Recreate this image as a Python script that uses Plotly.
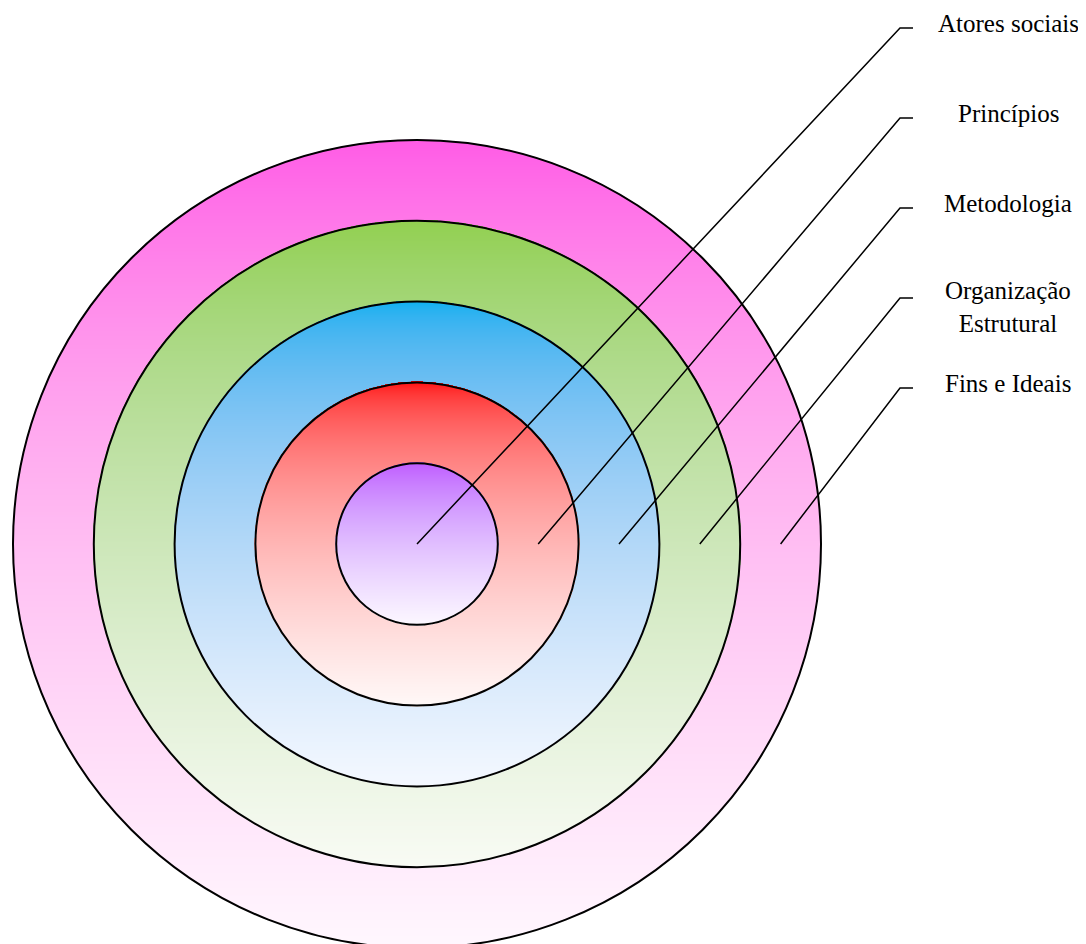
import base64
import struct
import zlib

import numpy as np
import plotly.graph_objects as go

# ---------------- data ----------------
labels = ["Atores sociais", "Princípios", "Metodologia",
          "Organização<br>Estrutural", "Fins e Ideais"]
ring_levels = [1, 2, 3, 4, 5]          # circle radii (inner -> outer), ring units
top_colors = ["#C05CFF", "#FF0000", "#00B0F0", "#92D050", "#FF5BE6"]
end_colors = ["#FCF7FF", "#FFF8F7", "#F4F8FF", "#F8FBF4", "#FFF7FE"]

# ---------------- layout geometry ----------------
OFF = 8                    # page body margin of the html page
W, H = 1086 - OFF, 944 - OFF
PX = 80.8                  # pixels per ring unit
CX, CY = 417 - OFF, 544 - OFF   # centre of the target in figure pixels
x_range = [-CX / PX, (W - CX) / PX]
y_range = [-(H - CY) / PX, CY / PX]


def hex_rgb(h):
    h = h.lstrip("#")
    return np.array([int(h[i:i + 2], 16) for i in (0, 2, 4)], dtype=float)


def to_lin(c):
    return (c / 255.0) ** 2.2


def to_srgb(c):
    return np.clip(c, 0, 1) ** (1 / 2.2) * 255.0


# ---------------- gradient raster (built from the ring data) ----------------
R = max(ring_levels)
N = int(round(2 * R * PX)) + 6
half = N / (2 * PX)
coords = (np.arange(N) + 0.5) / PX - half
X, Y = np.meshgrid(coords, -coords)
D = np.hypot(X, Y)
rgb = np.full((N, N, 3), 255.0)
for lvl, c0, c1 in sorted(zip(ring_levels, top_colors, end_colors), reverse=True):
    mask = D <= lvl + 1.0 / PX
    t = np.clip((lvl - Y) / (2 * lvl), 0, 1)[..., None]
    a, b = to_lin(hex_rgb(c0)), to_lin(hex_rgb(c1))
    col = to_srgb(a + (b - a) * t)
    rgb[mask] = col[mask]
alpha = np.clip((R - D) * PX + 1.0, 0, 1) * 255.0
img = np.dstack([rgb, alpha]).round().astype(np.uint8)


def png_bytes(arr):
    h, w = arr.shape[:2]
    raw = b"".join(b"\x00" + arr[i].tobytes() for i in range(h))

    def chunk(tag, data):
        return (struct.pack(">I", len(data)) + tag + data +
                struct.pack(">I", zlib.crc32(tag + data) & 0xFFFFFFFF))

    return (b"\x89PNG\r\n\x1a\n" +
            chunk(b"IHDR", struct.pack(">IIBBBBB", w, h, 8, 6, 0, 0, 0)) +
            chunk(b"IDAT", zlib.compress(raw, 9)) +
            chunk(b"IEND", b""))


uri = "data:image/png;base64," + base64.b64encode(png_bytes(img)).decode()

fig = go.Figure()

# ---------------- leader lines ----------------
x_bend = (900 - OFF - CX) / PX
x_tick = (913 - OFF - CX) / PX
x_label = (1008 - OFF - CX) / PX
for i, lab in enumerate(labels):
    x_start = 0 if i == 0 else (ring_levels[i - 1] + ring_levels[i]) / 2
    y_end = (CY - (28 - OFF) - 90 * i) / PX
    fig.add_trace(go.Scatter(
        x=[x_start, x_bend, x_tick], y=[0, y_end, y_end],
        mode="lines", line=dict(color="black", width=1.5),
        hoverinfo="skip", showlegend=False))
    nlines = lab.count("<br>") + 1
    fig.add_annotation(
        x=x_label, y=y_end, text=lab, showarrow=False,
        xanchor="center", yanchor="middle",
        yshift=5 - 14 * (nlines - 1),
        font=dict(family="Liberation Serif, Times New Roman, serif",
                  size=25, color="black"))

# ---------------- circles ----------------
for lvl in ring_levels:
    fig.add_shape(type="circle", xref="x", yref="y",
                  x0=-lvl, x1=lvl, y0=-lvl, y1=lvl,
                  line=dict(color="black", width=2), layer="above")

fig.add_layout_image(dict(
    source=uri, xref="x", yref="y", x=-half, y=half,
    sizex=2 * half, sizey=2 * half, sizing="stretch",
    xanchor="left", yanchor="top", layer="below"))

fig.update_layout(
    width=W, height=H,
    margin=dict(l=0, r=0, t=0, b=0),
    paper_bgcolor="white", plot_bgcolor="white",
    xaxis=dict(range=x_range, visible=False, fixedrange=True),
    yaxis=dict(range=y_range, visible=False, fixedrange=True),
    showlegend=False)

fig.write_html("out.html")
